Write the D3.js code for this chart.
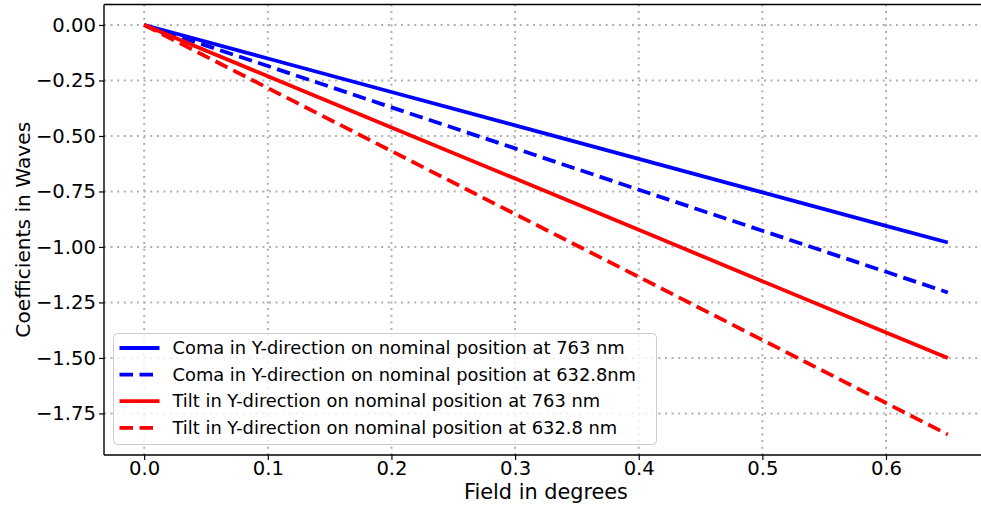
<!DOCTYPE html>
<html>
<head>
<meta charset="utf-8">
<script src="https://cdn.jsdelivr.net/npm/d3@7"></script>
<style>
  html, body { margin: 0; padding: 0; background: #fff; }
  svg { display: block; font-family: "DejaVu Sans", sans-serif; }
</style>
</head>
<body>
<svg id="chart" width="981" height="507"></svg>
<script>
// Field positions (degrees) and Zernike coefficients (waves)
const fieldDeg = [0, 0.1, 0.2, 0.3, 0.4, 0.5, 0.6, 0.65];
const comaY763 = [0, -0.151, -0.302, -0.452, -0.603, -0.754, -0.905, -0.980];
const comaY6328 = [0, -0.185, -0.371, -0.556, -0.742, -0.927, -1.112, -1.205];
const tiltY763 = [0, -0.231, -0.462, -0.692, -0.923, -1.154, -1.385, -1.500];
const tiltY6328 = [0, -0.284, -0.568, -0.852, -1.135, -1.419, -1.703, -1.845];

const seriesNames = [
  "Coma in Y-direction on nominal position at 763 nm",
  "Coma in Y-direction on nominal position at 632.8nm",
  "Tilt in Y-direction on nominal position at 763 nm",
  "Tilt in Y-direction on nominal position at 632.8 nm"
];
const xTicks = [0.0, 0.1, 0.2, 0.3, 0.4, 0.5, 0.6];
const yTicks = [0.00, -0.25, -0.50, -0.75, -1.00, -1.25, -1.50, -1.75];

const series = [
  { name: seriesNames[0], values: comaY763, color: "#0000ff", dashed: false },
  { name: seriesNames[1], values: comaY6328, color: "#0000ff", dashed: true },
  { name: seriesNames[2], values: tiltY763, color: "#ff0000", dashed: false },
  { name: seriesNames[3], values: tiltY6328, color: "#ff0000", dashed: true }
];

const svg = d3.select("#chart");
const plotL = 104, plotR = 988, plotT = 4.5, plotB = 455;
const DASH = "13.5,6.5";

const x = d3.scaleLinear().domain([-0.0325, 0.6825]).range([plotL, plotR]);
const y = d3.scaleLinear().domain([0.09225, -1.93725]).range([plotT, plotB]);

const minus = s => s.replace("-", "\u2212");

// dotted grid
const grid = svg.append("g")
  .attr("stroke", "#b0b0b0").attr("stroke-width", 2).attr("stroke-dasharray", "2,4.6");
grid.selectAll("line.gx").data(xTicks).join("line").attr("class", "gx")
  .attr("x1", d => x(d)).attr("x2", d => x(d))
  .attr("y1", plotT).attr("y2", plotB);
grid.selectAll("line.gy").data(yTicks).join("line").attr("class", "gy")
  .attr("y1", d => y(d)).attr("y2", d => y(d))
  .attr("x1", plotL).attr("x2", plotR);

// series lines
const line = d3.line().x((d, i) => x(fieldDeg[i])).y(d => y(d));
svg.append("g").selectAll("path").data(series).join("path")
  .attr("d", d => line(d.values))
  .attr("fill", "none")
  .attr("stroke", d => d.color)
  .attr("stroke-width", 3.8)
  .attr("stroke-dasharray", d => d.dashed ? DASH : null);

// axes
const xAxis = d3.axisBottom(x).tickValues(xTicks).tickFormat(d3.format(".1f")).tickSize(5).tickPadding(1.5);
const yAxis = d3.axisLeft(y).tickValues(yTicks).tickFormat(d => minus(d3.format(".2f")(d))).tickSize(5).tickPadding(3);

const gx = svg.append("g").attr("transform", `translate(0,${plotB})`).call(xAxis);
const gy = svg.append("g").attr("transform", `translate(${plotL},0)`).call(yAxis);
[gx, gy].forEach(g => {
  g.selectAll("text").attr("font-size", 19.6).attr("fill", "#000").attr("font-family", "DejaVu Sans");
  g.selectAll("line").attr("stroke", "#000").attr("stroke-width", 1.2);
  g.select(".domain").remove();
});

// spines
const spines = svg.append("g").attr("stroke", "#000").attr("stroke-width", 1.4).attr("fill", "none");
spines.append("line").attr("x1", plotL).attr("x2", plotL).attr("y1", plotT).attr("y2", plotB);
spines.append("line").attr("x1", plotL).attr("x2", plotR).attr("y1", plotB).attr("y2", plotB);
spines.append("line").attr("x1", plotL).attr("x2", plotR).attr("y1", plotT).attr("y2", plotT);
spines.append("line").attr("x1", plotR).attr("x2", plotR).attr("y1", plotT).attr("y2", plotB);

// axis titles
svg.append("text").attr("x", (plotL + plotR) / 2).attr("y", 499)
  .attr("text-anchor", "middle").attr("font-size", 20.8).text("Field in degrees");
svg.append("text").attr("transform", `translate(30,${(plotT + plotB) / 2}) rotate(-90)`)
  .attr("text-anchor", "middle").attr("font-size", 20.2).text("Coefficients in Waves");

// legend
const lg = svg.append("g");
lg.append("rect").attr("x", 113.5).attr("y", 333.5).attr("width", 543).attr("height", 111)
  .attr("rx", 4).attr("fill", "#fff").attr("fill-opacity", 0.8).attr("stroke", "#cccccc").attr("stroke-width", 1);
const rows = lg.selectAll("g.row").data(series).join("g").attr("class", "row")
  .attr("transform", (d, i) => `translate(0,${348 + i * 26.6})`);
rows.append("line").attr("x1", 119.5).attr("x2", 159.5).attr("y1", 0).attr("y2", 0)
  .attr("stroke", d => d.color).attr("stroke-width", 3.8)
  .attr("stroke-dasharray", d => d.dashed ? DASH : null);
rows.append("text").attr("x", 172.5).attr("y", 0).attr("dy", "0.35em")
  .attr("font-size", 17.85).text(d => d.name);
</script>
</body>
</html>
